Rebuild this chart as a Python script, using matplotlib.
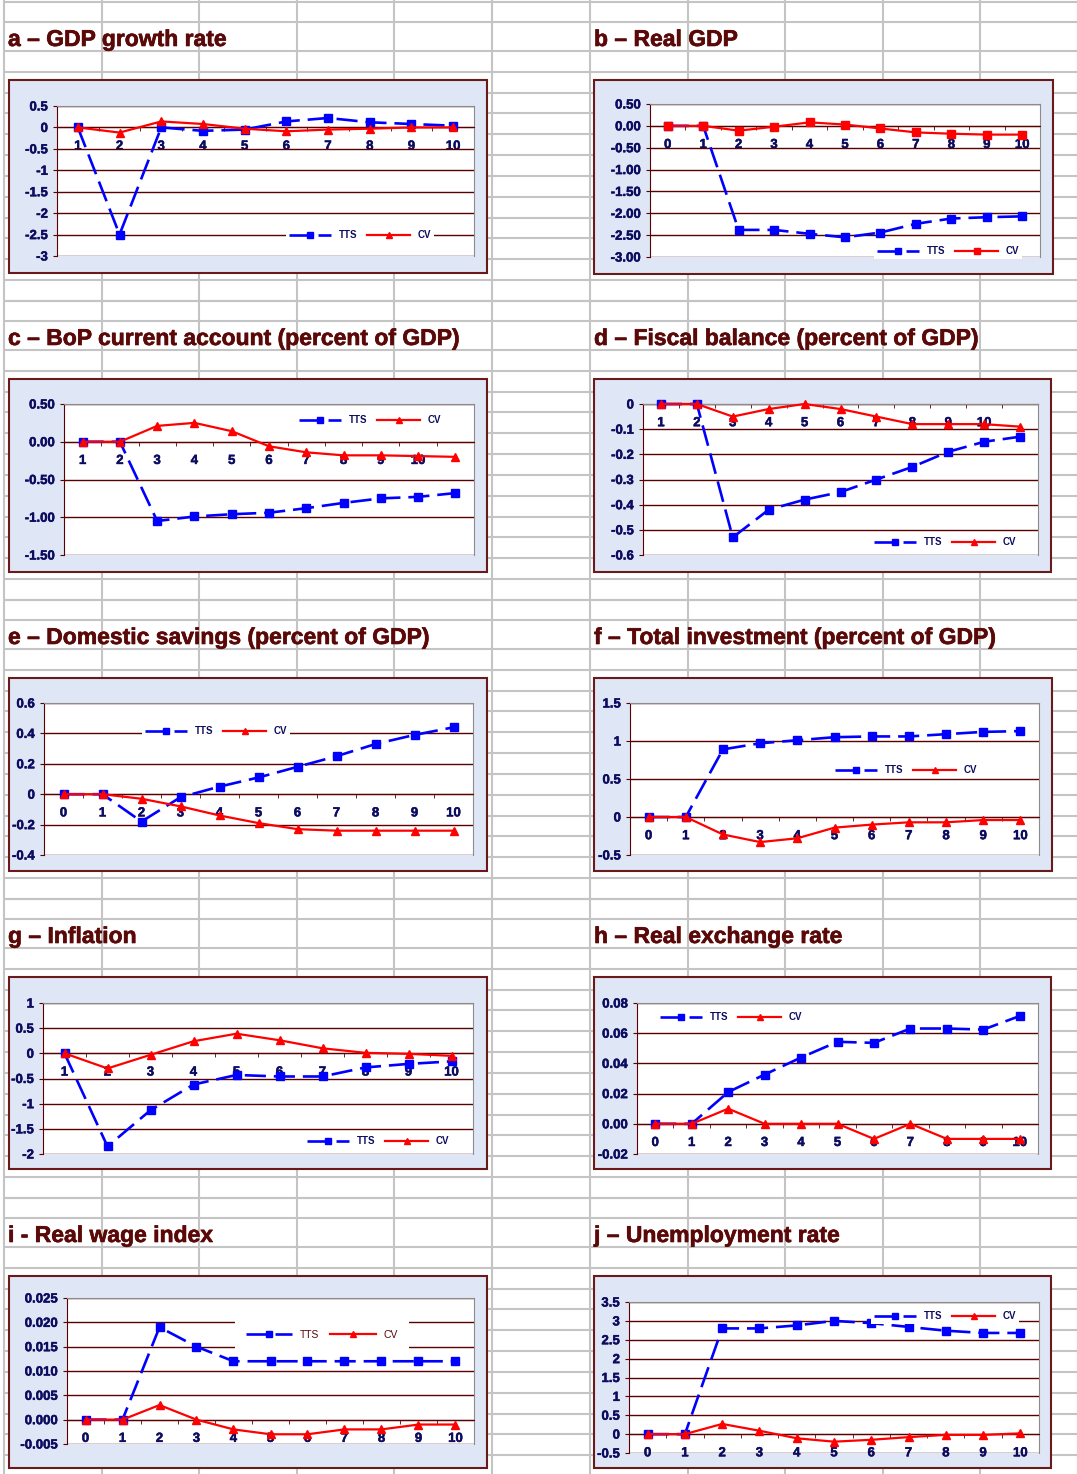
import numpy as np
import matplotlib.pyplot as plt
import matplotlib.patheffects as pe
from matplotlib.patches import Rectangle

plt.rcParams['font.family'] = ['Liberation Sans', 'DejaVu Sans']
plt.rcParams['font.weight'] = 'bold'

W, H = 1077, 1474

# ---- data ----
a_title = 'a – GDP growth rate'
a_cats = ['1', '2', '3', '4', '5', '6', '7', '8', '9', '10']
a_tts = [0, -2.5, 0, -0.08, -0.05, 0.14, 0.22, 0.12, 0.08, 0.04]
a_cv = [0, -0.12, 0.14, 0.08, -0.03, -0.09, -0.05, -0.03, 0, 0]
a_yticks = [-3, -2.5, -2, -1.5, -1, -0.5, 0, 0.5]
a_ylabels = ['-3', '-2.5', '-2', '-1.5', '-1', '-0.5', '0', '0.5']

b_title = 'b – Real GDP'
b_cats = ['0', '1', '2', '3', '4', '5', '6', '7', '8', '9', '10']
b_tts = [0, 0, -2.38, -2.38, -2.47, -2.55, -2.44, -2.24, -2.12, -2.09, -2.07]
b_cv = [0, 0, -0.11, -0.02, 0.08, 0.03, -0.06, -0.15, -0.18, -0.2, -0.2]
b_yticks = [-3, -2.5, -2, -1.5, -1, -0.5, 0, 0.5]
b_ylabels = ['-3.00', '-2.50', '-2.00', '-1.50', '-1.00', '-0.50', '0.00', '0.50']

c_title = 'c – BoP current account (percent of GDP)'
c_cats = ['1', '2', '3', '4', '5', '6', '7', '8', '9', '10', '']
c_tts = [0, 0, -1.05, -0.99, -0.96, -0.94, -0.88, -0.81, -0.75, -0.73, -0.68]
c_cv = [0, 0, 0.21, 0.25, 0.14, -0.06, -0.14, -0.18, -0.18, -0.19, -0.2]
c_yticks = [-1.5, -1, -0.5, 0, 0.5]
c_ylabels = ['-1.50', '-1.00', '-0.50', '0.00', '0.50']

d_title = 'd – Fiscal balance (percent of GDP)'
d_cats = ['1', '2', '3', '4', '5', '6', '7', '8', '9', '10', '']
d_tts = [0, 0, -0.53, -0.42, -0.38, -0.35, -0.30, -0.25, -0.19, -0.15, -0.13]
d_cv = [0, 0, -0.05, -0.02, 0, -0.02, -0.05, -0.08, -0.08, -0.08, -0.09]
d_yticks = [-0.6, -0.5, -0.4, -0.3, -0.2, -0.1, 0]
d_ylabels = ['-0.6', '-0.5', '-0.4', '-0.3', '-0.2', '-0.1', '0']

e_title = 'e – Domestic savings (percent of GDP)'
e_cats = ['0', '1', '2', '3', '4', '5', '6', '7', '8', '9', '10']
e_tts = [0, 0, -0.18, -0.02, 0.05, 0.11, 0.18, 0.25, 0.33, 0.39, 0.44]
e_cv = [0, 0, -0.03, -0.08, -0.14, -0.19, -0.23, -0.24, -0.24, -0.24, -0.24]
e_yticks = [-0.4, -0.2, 0, 0.2, 0.4, 0.6]
e_ylabels = ['-0.4', '-0.2', '0', '0.2', '0.4', '0.6']

f_title = 'f – Total investment (percent of GDP)'
f_cats = ['0', '1', '2', '3', '4', '5', '6', '7', '8', '9', '10']
f_tts = [0, 0, 0.89, 0.97, 1.01, 1.05, 1.06, 1.06, 1.09, 1.12, 1.13]
f_cv = [0, 0, -0.23, -0.33, -0.28, -0.14, -0.1, -0.07, -0.07, -0.04, -0.04]
f_yticks = [-0.5, 0, 0.5, 1, 1.5]
f_ylabels = ['-0.5', '0', '0.5', '1', '1.5']

g_title = 'g – Inflation'
g_cats = ['1', '2', '3', '4', '5', '6', '7', '8', '9', '10']
g_tts = [0, -1.85, -1.13, -0.62, -0.43, -0.46, -0.46, -0.28, -0.21, -0.16]
g_cv = [0, -0.3, -0.03, 0.24, 0.39, 0.26, 0.1, 0.01, -0.01, -0.05]
g_yticks = [-2, -1.5, -1, -0.5, 0, 0.5, 1]
g_ylabels = ['-2', '-1.5', '-1', '-0.5', '0', '0.5', '1']

h_title = 'h – Real exchange rate'
h_cats = ['0', '1', '2', '3', '4', '5', '6', '7', '8', '9', '10']
h_tts = [0, 0, 0.021, 0.0326, 0.0439, 0.0543, 0.0536, 0.0631, 0.0631, 0.0624, 0.0714]
h_cv = [0, 0, 0.01, 0, 0, 0, -0.01, 0, -0.01, -0.01, -0.01]
h_yticks = [-0.02, 0, 0.02, 0.04, 0.06, 0.08]
h_ylabels = ['-0.02', '0.00', '0.02', '0.04', '0.06', '0.08']

i_title = 'i - Real wage index'
i_cats = ['0', '1', '2', '3', '4', '5', '6', '7', '8', '9', '10']
i_tts = [0, 0, 0.019, 0.015, 0.012, 0.012, 0.012, 0.012, 0.012, 0.012, 0.012]
i_cv = [0, 0, 0.003, 0, -0.002, -0.003, -0.003, -0.002, -0.002, -0.001, -0.001]
i_yticks = [-0.005, 0, 0.005, 0.01, 0.015, 0.02, 0.025]
i_ylabels = ['-0.005', '0.000', '0.005', '0.010', '0.015', '0.020', '0.025']

j_title = 'j – Unemployment rate'
j_cats = ['0', '1', '2', '3', '4', '5', '6', '7', '8', '9', '10']
j_tts = [0, 0, 2.80, 2.80, 2.88, 3.0, 2.94, 2.84, 2.74, 2.68, 2.68]
j_cv = [0, 0, 0.27, 0.09, -0.11, -0.2, -0.15, -0.08, -0.02, -0.02, 0.02]
j_yticks = [-0.5, 0, 0.5, 1, 1.5, 2, 2.5, 3, 3.5]
j_ylabels = ['-0.5', '0', '0.5', '1', '1.5', '2', '2.5', '3', '3.5']

# ---- layout (pixels) ----
panels = [
    dict(title=a_title, cats=a_cats, tts=a_tts, cv=a_cv, yt=a_yticks, yl=a_ylabels,
         col=0, row=0, plot=(57, 106, 474, 256), box=(9, 80, 487, 273), leg=(360, 235), cvm='^'),
    dict(title=b_title, cats=b_cats, tts=b_tts, cv=b_cv, yt=b_yticks, yl=b_ylabels,
         col=1, row=0, plot=(650, 104, 1040, 257), box=(594, 80, 1053, 274), leg=(948, 251), cvm='s'),
    dict(title=c_title, cats=c_cats, tts=c_tts, cv=c_cv, yt=c_yticks, yl=c_ylabels,
         col=0, row=1, plot=(64, 404, 474, 555), box=(9, 379, 487, 572), leg=(370, 420), cvm='^'),
    dict(title=d_title, cats=d_cats, tts=d_tts, cv=d_cv, yt=d_yticks, yl=d_ylabels,
         col=1, row=1, plot=(643, 404, 1038, 555), box=(594, 379, 1051, 572), leg=(945, 542), cvm='^'),
    dict(title=e_title, cats=e_cats, tts=e_tts, cv=e_cv, yt=e_yticks, yl=e_ylabels,
         col=0, row=2, plot=(44, 703, 473, 855), box=(9, 678, 487, 871), leg=(216, 731), cvm='^'),
    dict(title=f_title, cats=f_cats, tts=f_tts, cv=f_cv, yt=f_yticks, yl=f_ylabels,
         col=1, row=2, plot=(630, 703, 1039, 855), box=(594, 678, 1052, 871), leg=(906, 770), cvm='^'),
    dict(title=g_title, cats=g_cats, tts=g_tts, cv=g_cv, yt=g_yticks, yl=g_ylabels,
         col=0, row=3, plot=(43, 1003, 473, 1154), box=(9, 977, 487, 1169), leg=(378, 1141), cvm='^'),
    dict(title=h_title, cats=h_cats, tts=h_tts, cv=h_cv, yt=h_yticks, yl=h_ylabels,
         col=1, row=3, plot=(637, 1003, 1038, 1154), box=(594, 977, 1051, 1169), leg=(731, 1017), cvm='^'),
    dict(title=i_title, cats=i_cats, tts=i_tts, cv=i_cv, yt=i_yticks, yl=i_ylabels,
         col=0, row=4, plot=(67, 1298, 474, 1444), box=(9, 1276, 487, 1468), leg=(322, 1335), cvm='^'),
    dict(title=j_title, cats=j_cats, tts=j_tts, cv=j_cv, yt=j_yticks, yl=j_ylabels,
         col=1, row=4, plot=(629, 1302, 1039, 1453), box=(594, 1276, 1051, 1468), leg=(945, 1316), cvm='^'),
]

fig = plt.figure(figsize=(W / 100, H / 100), dpi=100)
fig.patch.set_facecolor('white')

# spreadsheet background
bg = fig.add_axes([0, 0, 1, 1])
bg.set_xlim(0, W)
bg.set_ylim(H, 0)
bg.axis('off')
gridc = '#c4c4c4'
for k in range(5):
    base = 2 + 299 * k
    ys = [base, base + 20] + [base + 49 + 20.83 * j for j in range(13)]
    for y in ys:
        bg.plot([4, W], [y, y], color=gridc, lw=1.5, solid_capstyle='butt')
for x0 in (4, 590):
    for j in range(6):
        x = x0 + 97.5 * j
        bg.plot([x, x], [0, H], color=gridc, lw=1.5, solid_capstyle='butt')

darkred = '#5a0808'
navy = '#0c0c60'
bolden = [pe.withStroke(linewidth=0.35, foreground=navy)]

for p in panels:
    bx = p['box']
    bg.add_patch(Rectangle((bx[0], bx[1]), bx[2] - bx[0], bx[3] - bx[1],
                           facecolor='#dfe6f5', edgecolor='#6a1a1a', lw=1.5, zorder=3))
    tx = 8 if p['col'] == 0 else 594
    bg.text(tx, 46 + 299 * p['row'], p['title'], fontsize=16.5, color=darkred,
            fontweight='bold', va='baseline', ha='left', zorder=4,
            path_effects=[pe.withStroke(linewidth=0.45, foreground=darkred)])

    l, t, r, b = p['plot']
    ax = fig.add_axes([l / W, 1 - b / H, (r - l) / W, (b - t) / H])
    ax.set_facecolor('white')
    n = len(p['cats'])
    x = np.arange(n)
    ax.set_xlim(-0.5, n - 0.5)
    ax.set_ylim(p['yt'][0], p['yt'][-1])

    ax.set_yticks(p['yt'], labels=p['yl'])
    ax.yaxis.grid(True, color='#5a0000', lw=1.0)
    ax.set_axisbelow(True)

    ax.set_xticks(x, labels=p['cats'])
    ax.set_xticks(np.arange(n + 1) - 0.5, minor=True)
    ax.spines['bottom'].set_position(('data', 0))
    ax.spines['bottom'].set_color('#5a0000')
    ax.spines['left'].set_color('#5a0000')
    ax.spines['top'].set_color('#8c8c8c')
    ax.spines['right'].set_color('#8c8c8c')
    ax.tick_params(axis='x', which='major', length=0, pad=9.5,
                   labelsize=9.5, labelcolor=navy)
    ax.tick_params(axis='x', which='minor', length=3, direction='out', color='#5a0000')
    ax.tick_params(axis='y', length=3, direction='out', color='#5a0000', pad=3.5,
                   labelsize=9.5, labelcolor=navy)
    for lbl in ax.get_xticklabels() + ax.get_yticklabels():
        lbl.set_fontweight('bold')
        lbl.set_path_effects(bolden)

    ax.plot(x, p['tts'], color='#0000ff', lw=1.9, ls=(0, (8, 3)),
            marker='s', ms=5.5, label='TTS', clip_on=False, zorder=4)
    ax.plot(x, p['cv'], color='#ff0000', lw=1.6, marker=p['cvm'],
            ms=6 if p['cvm'] == '^' else 5.5, label='CV', clip_on=False, zorder=5)

    if p['title'].startswith('i'):
        lfs, lw_, lcol, bpad = 7.5, 'normal', darkred, 1.0
    else:
        lfs, lw_, lcol, bpad = 7, 'bold', navy, 0.3
    leg = ax.legend(loc='center', bbox_to_anchor=(p['leg'][0] / W, 1 - p['leg'][1] / H),
                    bbox_transform=fig.transFigure, ncol=2, frameon=True,
                    facecolor='white', edgecolor='none', framealpha=1, fancybox=False,
                    fontsize=lfs, handlelength=4.4, handletextpad=0.8,
                    columnspacing=1.0, borderpad=bpad, numpoints=1, markerscale=0.75)
    for txt in leg.get_texts():
        txt.set_fontweight(lw_)
        txt.set_color(lcol)

fig.savefig('out.png', dpi=100)
